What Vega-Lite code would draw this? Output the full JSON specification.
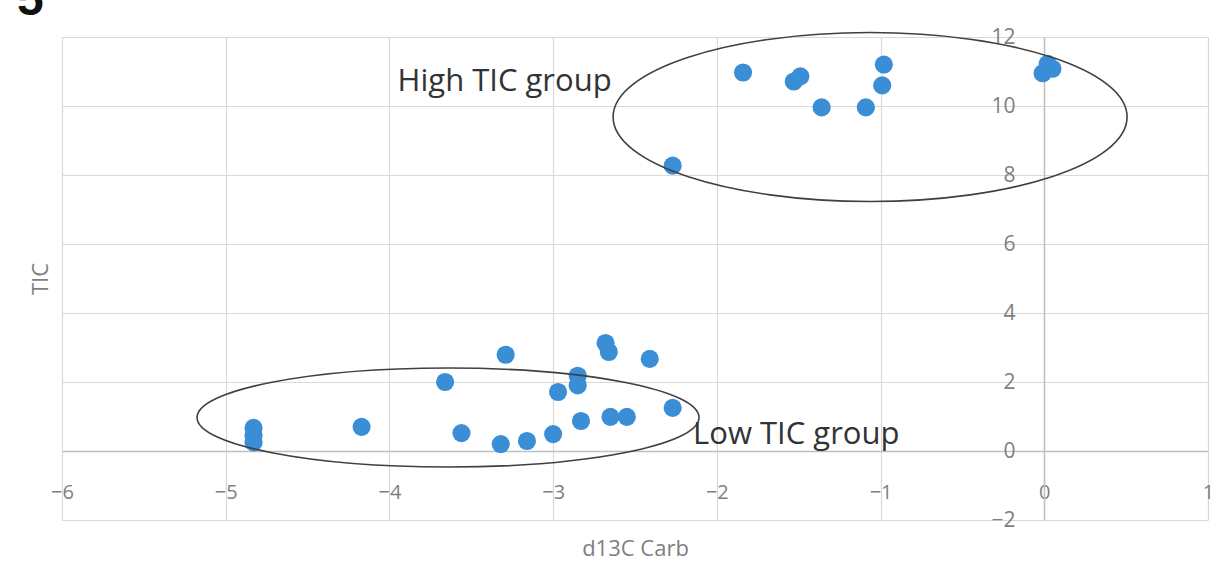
{
  "$schema": "https://vega.github.io/schema/vega-lite/v6.json",
  "width": 1146,
  "height": 483,
  "autosize": "none",
  "padding": {"left": 62, "top": 37, "right": 8, "bottom": 45},
  "title": {"text": "5", "anchor": "start", "frame": "group", "fontSize": 48, "fontWeight": "bold", "font": "Liberation Sans", "color": "#111111", "dx": -45, "dy": 40, "offset": 3, "baseline": "alphabetic"},
  "config": {"view": {"stroke": null}, "font": "Open Sans"},
  "layer": [
    {
      "data": {"values": [
        {"x": -2.27, "y": 8.27}, {"x": -1.84, "y": 10.97}, {"x": -1.53, "y": 10.71}, {"x": -1.49, "y": 10.86},
        {"x": -1.36, "y": 9.96}, {"x": -1.09, "y": 9.96}, {"x": -0.98, "y": 11.2}, {"x": -0.99, "y": 10.6},
        {"x": -0.01, "y": 10.95}, {"x": 0.02, "y": 11.22}, {"x": 0.05, "y": 11.08},
        {"x": -4.83, "y": 0.67}, {"x": -4.83, "y": 0.45}, {"x": -4.83, "y": 0.25}, {"x": -4.17, "y": 0.7},
        {"x": -3.66, "y": 2.0}, {"x": -3.29, "y": 2.79}, {"x": -3.56, "y": 0.52}, {"x": -3.32, "y": 0.2},
        {"x": -3.16, "y": 0.29}, {"x": -3.0, "y": 0.49}, {"x": -2.97, "y": 1.71}, {"x": -2.85, "y": 2.18},
        {"x": -2.85, "y": 1.9}, {"x": -2.83, "y": 0.87}, {"x": -2.68, "y": 3.13}, {"x": -2.66, "y": 2.87},
        {"x": -2.65, "y": 0.99}, {"x": -2.55, "y": 0.99}, {"x": -2.41, "y": 2.67}, {"x": -2.27, "y": 1.25}
      ]},
      "mark": {"type": "circle", "size": 330, "color": "#3a8ed6", "opacity": 1},
      "encoding": {
        "x": {"field": "x", "type": "quantitative",
          "scale": {"domain": [-6, 1], "nice": false, "zero": false},
          "axis": {"title": "d13C Carb", "values": [-6, -5, -4, -3, -2, -1, 0, 1], "format": "d", "offset": -69, "ticks": false,
            "labelPadding": 31, "labelFontSize": 20, "labelColor": "#7f7f7f", "domainColor": "#bfbfbf", "domainWidth": 1.5,
            "gridColor": "#d9d9d9", "gridWidth": 1.2, "titleColor": "#7f7f7f", "titleFontSize": 22, "titleFontWeight": "normal",
            "titleY": 97, "titleBaseline": "middle", "labelFlush": false}},
        "y": {"field": "y", "type": "quantitative",
          "scale": {"domain": [-2, 12], "nice": false, "zero": false},
          "axis": {"title": "TIC", "values": [-2, 0, 2, 4, 6, 8, 10, 12], "format": "d", "offset": -982, "ticks": false,
            "labelPadding": 29, "labelFontSize": 21, "labelColor": "#7f7f7f", "domainColor": "#bfbfbf", "domainWidth": 1.5,
            "gridColor": "#d9d9d9", "gridWidth": 1.2, "titleColor": "#7f7f7f", "titleFontSize": 22, "titleFontWeight": "normal",
            "titleX": -1004, "titleBaseline": "middle", "labelFlush": false}}
      }
    },
    {
      "data": {"values": [{"x": -1.064, "y": 9.68}]},
      "mark": {"type": "point", "shape": "M -1 0 A 1 0.3288 0 1 1 1 0 A 1 0.3288 0 1 1 -1 0 Z", "size": 264196, "filled": false, "stroke": "#404040", "strokeWidth": 1.6, "opacity": 1},
      "encoding": {"x": {"field": "x", "type": "quantitative"}, "y": {"field": "y", "type": "quantitative"}}
    },
    {
      "data": {"values": [{"x": -3.642, "y": 0.97}]},
      "mark": {"type": "point", "shape": "M -0.9767 0 A 0.9767 0.1926 0 1 1 0.9767 0 A 0.9767 0.1926 0 1 1 -0.9767 0 Z", "size": 264196, "filled": false, "stroke": "#404040", "strokeWidth": 1.6, "opacity": 1},
      "encoding": {"x": {"field": "x", "type": "quantitative"}, "y": {"field": "y", "type": "quantitative"}}
    },
    {
      "data": {"values": [
        {"x": -3.95, "y": 10.71, "label": "High TIC group"},
        {"x": -2.145, "y": 0.46, "label": "Low TIC group"}
      ]},
      "mark": {"type": "text", "align": "left", "baseline": "middle", "fontSize": 31, "color": "#333333", "font": "Open Sans"},
      "encoding": {"x": {"field": "x", "type": "quantitative"}, "y": {"field": "y", "type": "quantitative"}, "text": {"field": "label"}}
    }
  ]
}
